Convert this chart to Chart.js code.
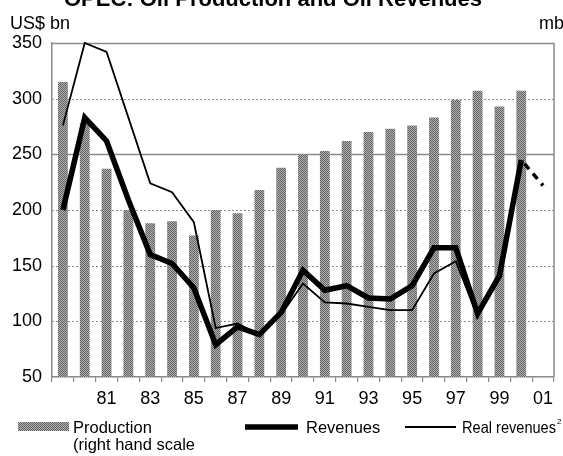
<!DOCTYPE html>
<html><head><meta charset="utf-8">
<script src="https://cdn.jsdelivr.net/npm/chart.js@4.4.0/dist/chart.umd.min.js"></script>
<style>html,body{margin:0;padding:0;background:#fff;}#wrap{width:563px;height:456px;position:relative;}</style>
</head><body><div id="wrap"><canvas id="c" width="563" height="456"></canvas></div>
<script>
// ---- data ----
const years = ['79','80','81','82','83','84','85','86','87','88','89','90','91','92','93','94','95','96','97','98','99','00','01'];
const xTickLabels = ['81','83','85','87','89','91','93','95','97','99','01'];
const yTicks = [50,100,150,200,250,300,350];
// production bars (read against the left scale)
const production = [315,278,237,200,188,190,177,200,197,218,238,250,253,262,270,273,276,283,299,307,293,307,null];
const revenues = [200,283,262,209,160,152,130,79,95,88,108,146,128,132,121,120,132,166,166,107,141,245,222];
const realRevenues = [276,350,342,283,224,216,189,94,98,88,106,134,117,116,113,110,110,143,154,104,140,245,null];
const titleText = 'OPEC: Oil Production and Oil Revenues';
const leftUnit = 'US$ bn';
const rightUnit = 'mb/d';
const legendProduction = ['Production', '(right hand scale'];
const legendRevenues = 'Revenues';
const legendReal = 'Real revenues';
const legendRealNote = '2';

const FONT = '"Liberation Sans", Arial, Helvetica, sans-serif';

function makePattern(ctx) {
  const pc = document.createElement('canvas');
  pc.width = 2; pc.height = 2;
  const p = pc.getContext('2d');
  p.fillStyle = '#b0b0b0'; p.fillRect(0,0,2,2);
  p.fillStyle = '#646464'; p.fillRect(0,0,1,1); p.fillRect(1,1,1,1);
  return ctx.createPattern(pc, 'repeat');
}

const canvas = document.getElementById('c');
const ctx0 = canvas.getContext('2d');
const barPattern = makePattern(ctx0);

function fitText(ctx, text, x, y, maxW) {
  const w = ctx.measureText(text).width;
  if (w <= maxW) { ctx.fillText(text, x, y); return w; }
  ctx.save();
  ctx.translate(x, y);
  ctx.scale(maxW / w, 1);
  ctx.fillText(text, 0, 0);
  ctx.restore();
  return maxW;
}

const framePlugin = {
  id: 'frame',
  beforeDatasetsDraw(chart) {
    const {ctx, chartArea: {left, right, top, bottom}, scales: {y}} = chart;
    ctx.save();
    yTicks.forEach(v => {
      if (v === 50) return;
      const py = Math.round(y.getPixelForValue(v)) + 0.5;
      ctx.beginPath();
      if (v === 250 || v === 350) {
        ctx.setLineDash([]);
        ctx.strokeStyle = '#8a8a8a';
        ctx.lineWidth = 1.5;
      } else {
        ctx.setLineDash([2, 2]);
        ctx.strokeStyle = '#909090';
        ctx.lineWidth = 1;
      }
      ctx.moveTo(left, py); ctx.lineTo(right, py); ctx.stroke();
    });
    ctx.setLineDash([]);
    ctx.strokeStyle = '#8a8a8a';
    ctx.lineWidth = 1.5;
    ctx.beginPath(); ctx.moveTo(right, top); ctx.lineTo(right, bottom); ctx.stroke();
    ctx.restore();
  },
  afterDraw(chart) {
    const {ctx} = chart;
    ctx.save();
    ctx.fillStyle = '#000';
    ctx.textBaseline = 'alphabetic';
    // title (cut off at top)
    ctx.font = 'bold 22px ' + FONT;
    ctx.textAlign = 'center';
    ctx.fillText(titleText, 273, 6);
    // units
    ctx.font = '18px ' + FONT;
    ctx.textAlign = 'left';
    ctx.fillText(leftUnit, 10, 29);
    ctx.fillText(rightUnit, 539, 29);
    // legend
    ctx.fillStyle = barPattern;
    ctx.fillRect(18, 422, 51, 9);
    ctx.fillStyle = '#000';
    ctx.font = '16.5px ' + FONT;
    ctx.fillText(legendProduction[0], 73, 433);
    ctx.fillText(legendProduction[1], 73, 450);
    ctx.lineWidth = 5.5;
    ctx.strokeStyle = '#000';
    ctx.beginPath(); ctx.moveTo(245, 427); ctx.lineTo(298, 427); ctx.stroke();
    ctx.fillText(legendRevenues, 306, 433);
    ctx.lineWidth = 1.8;
    ctx.beginPath(); ctx.moveTo(405, 427); ctx.lineTo(456, 427); ctx.stroke();
    const w = fitText(ctx, legendReal, 462, 433, 94);
    ctx.font = '8px ' + FONT;
    ctx.fillText(legendRealNote, 462 + w + 1, 424);
    ctx.restore();
  }
};

new Chart(canvas, {
  data: {
    labels: years,
    datasets: [
      {
        type: 'line', label: legendRevenues, data: revenues, order: 1,
        borderColor: '#000', borderWidth: 5.5, pointRadius: 0, tension: 0,
        borderJoinStyle: 'miter', clip: false, spanGaps: false,
        segment: {
          borderDash: c => c.p1DataIndex === years.length - 1 ? [7, 6] : undefined,
          borderDashOffset: c => c.p1DataIndex === years.length - 1 ? 8 : undefined,
          borderWidth: c => c.p1DataIndex === years.length - 1 ? 3.5 : undefined
        }
      },
      {
        type: 'line', label: legendReal, data: realRevenues, order: 2,
        borderColor: '#000', borderWidth: 1.8, pointRadius: 0, tension: 0,
        borderJoinStyle: 'miter', clip: false
      },
      {
        type: 'bar', label: legendProduction[0], data: production, order: 3,
        backgroundColor: barPattern, borderWidth: 0,
        barPercentage: 0.45, categoryPercentage: 1
      }
    ]
  },
  options: {
    responsive: false, animation: false, devicePixelRatio: 1,
    layout: {padding: {left: 0, right: 9, top: 43, bottom: 44}},
    plugins: {legend: {display: false}, tooltip: {enabled: false}, title: {display: false}},
    scales: {
      x: {
        type: 'category', offset: true,
        grid: {display: true, drawOnChartArea: false, drawTicks: true, tickLength: 5, color: '#888', offset: true, lineWidth: 1.2},
        border: {display: true, color: '#888', width: 1.5},
        ticks: {
          autoSkip: false, maxRotation: 0, minRotation: 0, padding: 6, color: '#000',
          font: {family: FONT, size: 18},
          callback: (v, i) => xTickLabels.includes(years[i]) ? years[i] : ''
        },
        afterFit: s => { s.height = 35; }
      },
      y: {
        type: 'linear', min: 50, max: 350,
        afterBuildTicks: s => { s.ticks = yTicks.map(v => ({value: v})); },
        grid: {display: false, drawTicks: false},
        border: {display: true, color: '#8a8a8a', width: 1.5},
        ticks: {padding: 10, color: '#000', font: {family: FONT, size: 18}},
        afterFit: s => { s.width = 52; }
      }
    }
  },
  plugins: [framePlugin]
});
</script></body></html>
